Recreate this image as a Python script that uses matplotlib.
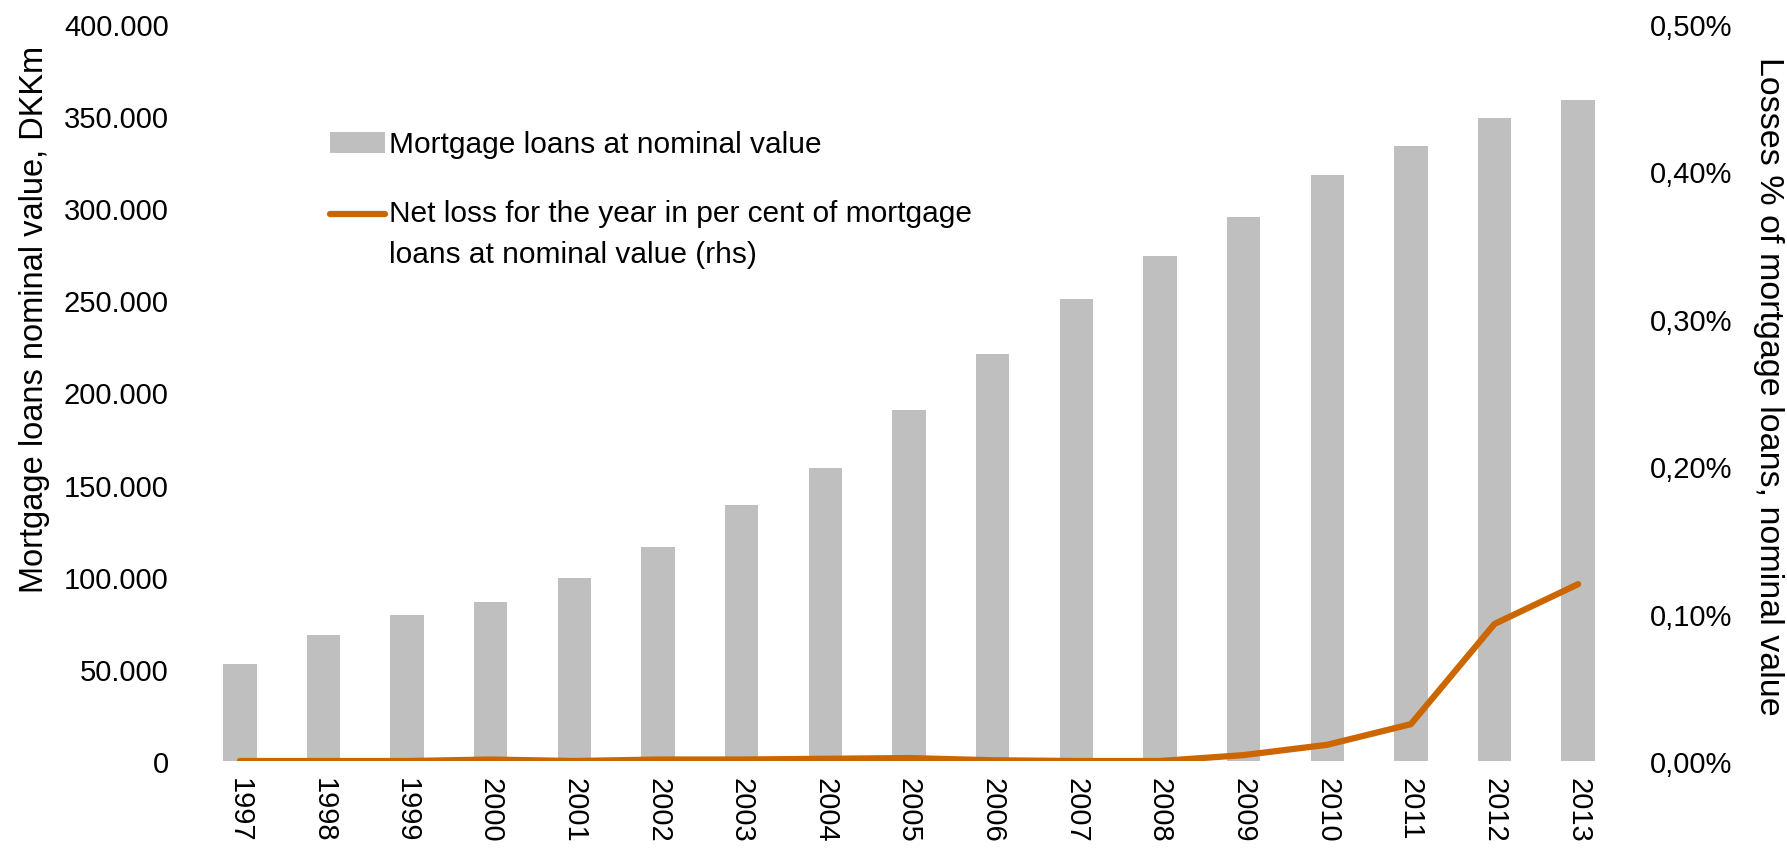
import numpy as np
import matplotlib
matplotlib.use("Agg")
import matplotlib.pyplot as plt
from matplotlib.ticker import FuncFormatter

plt.rcParams['font.family'] = ['Liberation Sans', 'DejaVu Sans']

# data
years = [str(y) for y in range(1997, 2014)]
loans = [52500, 68500, 79500, 86500, 99500, 116000, 139000, 159000, 190500,
         221000, 251000, 274000, 295000, 318000, 334000, 349000, 358500]
loss_pct = [0.000, 0.000, 0.000, 0.001, 0.000, 0.001, 0.001, 0.0015, 0.002,
            0.0005, 0.000, 0.000, 0.004, 0.011, 0.025, 0.093, 0.120]

bar_label = "Mortgage loans at nominal value"
line_label = "Net loss for the year in per cent of mortgage\nloans at nominal value (rhs)"

bar_color = '#BFBFBF'
line_color = '#CC6600'

fig = plt.figure(figsize=(17.87, 8.54), dpi=100)
ax = fig.add_axes([198 / 1787, 92 / 854, 1422 / 1787, 737 / 854])
ax2 = ax.twinx()

x = np.arange(len(years))
bars = ax.bar(x, loans, width=0.4, color=bar_color, label=bar_label)
line, = ax2.plot(x, loss_pct, color=line_color, lw=4.5,
                 solid_capstyle='round', solid_joinstyle='round', label=line_label)

ax.set_xlim(-0.5, len(years) - 0.5)
ax.set_ylim(0, 400000)
ax.set_yticks(np.arange(0, 400001, 50000))
ax.yaxis.set_major_formatter(FuncFormatter(lambda v, p: f"{int(v):,}".replace(',', '.')))
ax2.set_ylim(0, 0.5)
ax2.set_yticks(np.arange(0, 0.51, 0.1))
ax2.yaxis.set_major_formatter(FuncFormatter(lambda v, p: f"{v:.2f}%".replace('.', ',')))

ax.set_xticks(x)
ax.set_xticklabels(years, rotation=-90, va='top', ha='center')

for a in (ax, ax2):
    for s in a.spines.values():
        s.set_visible(False)
ax.tick_params(axis='x', length=0, pad=11.5, labelsize=21)
ax.tick_params(axis='y', length=0, pad=21, labelsize=21)
ax2.tick_params(axis='y', length=0, pad=21.5, labelsize=21)

ax.set_ylabel("Mortgage loans nominal value, DKKm", fontsize=23.5)
ax.yaxis.set_label_coords(-0.104, 0.6)
ax2.set_ylabel("Losses % of mortgage loans, nominal value", fontsize=24.5,
               rotation=-90, va='bottom')
ax2.yaxis.set_label_coords(1.0935, 0.51)

leg = fig.legend([bars, line], [bar_label, line_label], loc='upper left',
                 bbox_to_anchor=(330 / 1787, 1 - 131.5 / 854), frameon=False,
                 fontsize=21.5, handlelength=1.84, handletextpad=0.15,
                 borderpad=0, borderaxespad=0, labelspacing=1.35)
leg.get_texts()[1].set_linespacing(1.61)
# put the line handle next to the first row of its two-line label
hl = leg.legend_handles[1]
hl.set_ydata(np.asarray(hl.get_ydata()) + 14.4)

fig.savefig("out.png", dpi=100)
